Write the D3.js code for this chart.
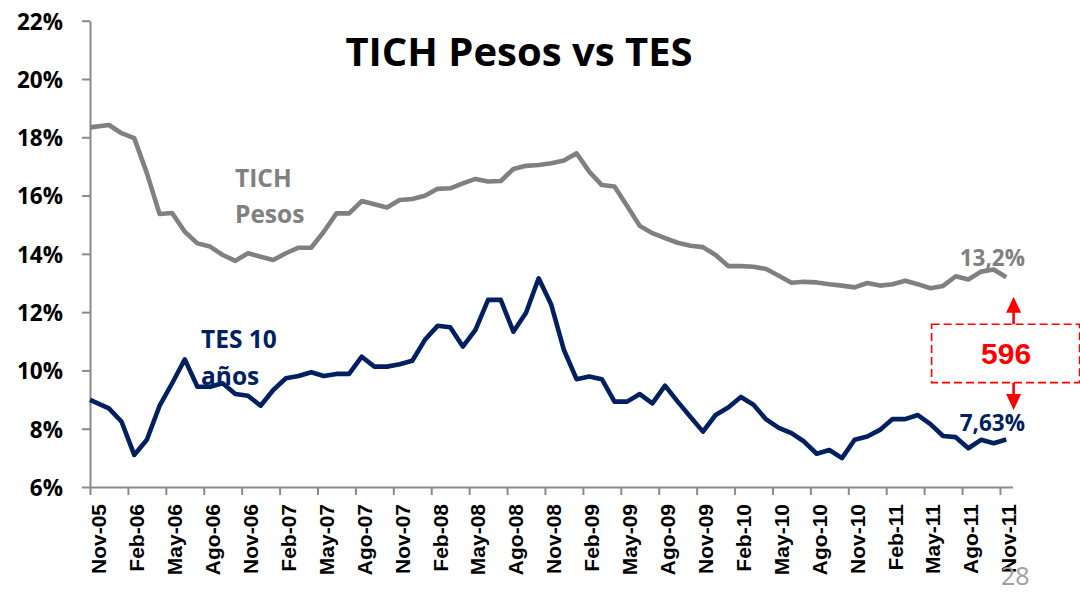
<!DOCTYPE html>
<html>
<head>
<meta charset="utf-8">
<script src="https://cdn.jsdelivr.net/npm/d3@7"></script>
<style>
  html, body { margin: 0; padding: 0; background: #ffffff; }
  svg { display: block; }
</style>
</head>
<body>
<svg id="chart" width="1080" height="592"></svg>
<script>
// Monthly categories, Nov-05 .. Nov-11
const months = [
  "Nov-05","Dic-05","Ene-06","Feb-06","Mar-06","Abr-06","May-06","Jun-06","Jul-06","Ago-06","Sep-06","Oct-06",
  "Nov-06","Dic-06","Ene-07","Feb-07","Mar-07","Abr-07","May-07","Jun-07","Jul-07","Ago-07","Sep-07","Oct-07",
  "Nov-07","Dic-07","Ene-08","Feb-08","Mar-08","Abr-08","May-08","Jun-08","Jul-08","Ago-08","Sep-08","Oct-08",
  "Nov-08","Dic-08","Ene-09","Feb-09","Mar-09","Abr-09","May-09","Jun-09","Jul-09","Ago-09","Sep-09","Oct-09",
  "Nov-09","Dic-09","Ene-10","Feb-10","Mar-10","Abr-10","May-10","Jun-10","Jul-10","Ago-10","Sep-10","Oct-10",
  "Nov-10","Dic-10","Ene-11","Feb-11","Mar-11","Abr-11","May-11","Jun-11","Jul-11","Ago-11","Sep-11","Oct-11",
  "Nov-11"
];

// TICH Pesos yield (%)
const tich = [
  18.34, 18.42, 18.14, 17.97, 16.77, 15.37, 15.40, 14.76, 14.36, 14.25, 13.96, 13.76,
  14.02, 13.90, 13.79, 14.02, 14.21, 14.21, 14.76, 15.39, 15.39, 15.81, 15.70, 15.59,
  15.85, 15.88, 15.99, 16.23, 16.25, 16.42, 16.57, 16.48, 16.50, 16.91, 17.02, 17.05,
  17.11, 17.20, 17.45, 16.82, 16.36, 16.31, 15.64, 14.96, 14.71, 14.54, 14.38, 14.28,
  14.23, 13.96, 13.58, 13.58, 13.56, 13.48, 13.25, 13.01, 13.04, 13.02, 12.96, 12.91,
  12.85, 13.00, 12.91, 12.96, 13.08, 12.96, 12.82, 12.90, 13.23, 13.12, 13.39, 13.46,
  13.20
];

// TES 10 años yield (%)
const tes = [
  8.99, 8.70, 8.24, 7.10, 7.62, 8.78, 9.56, 10.38, 9.44, 9.44, 9.56, 9.19,
  9.13, 8.79, 9.33, 9.73, 9.81, 9.94, 9.81, 9.88, 9.88, 10.47, 10.13, 10.13,
  10.21, 10.33, 11.05, 11.53, 11.48, 10.82, 11.39, 12.42, 12.42, 11.33, 11.98, 13.16,
  12.25, 10.70, 9.70, 9.79, 9.70, 8.93, 8.93, 9.19, 8.87, 9.48, 8.93, 8.41,
  7.90, 8.47, 8.73, 9.09, 8.82, 8.32, 8.03, 7.85, 7.56, 7.14, 7.27, 6.99,
  7.62, 7.73, 7.96, 8.33, 8.33, 8.47, 8.16, 7.75, 7.71, 7.33, 7.62, 7.50,
  7.63
];

// Axis labels
const yTicks = [6, 8, 10, 12, 14, 16, 18, 20, 22];
const xTickLabels = ["Nov-05","Feb-06","May-06","Ago-06","Nov-06","Feb-07","May-07","Ago-07","Nov-07",
  "Feb-08","May-08","Ago-08","Nov-08","Feb-09","May-09","Ago-09","Nov-09","Feb-10","May-10",
  "Ago-10","Nov-10","Feb-11","May-11","Ago-11","Nov-11"];

const spreadLabel = "596";
const title = "TICH Pesos vs TES";

const NAVY = "#002060";
const GREY = "#808080";
const AXIS = "#8a8a8a";
const RED = "#ff0000";

const svg = d3.select("#chart");
svg.append("rect").attr("width", 1080).attr("height", 592).attr("fill", "#fff");

const plotLeft = 90, plotRight = 1012.6, plotTop = 20.7, plotBottom = 487;

// One unit per month; each month occupies a slot, values sit mid-slot
const x = d3.scaleLinear().domain([0, months.length]).range([plotLeft, plotRight]);
const y = d3.scaleLinear().domain([6, 22]).range([plotBottom, plotTop]);

// first observation is anchored on the axis origin, the rest at mid-month
const pos = i => (i === 0 ? 0 : i + 0.5);

// Y axis
const yAxis = svg.append("g")
  .attr("transform", `translate(${plotLeft},0)`)
  .call(d3.axisLeft(y).tickValues(yTicks).tickSize(8).tickSizeOuter(0).tickPadding(19)
    .tickFormat(d => d + "%"));
yAxis.select(".domain").attr("stroke", AXIS).attr("stroke-width", 2);
yAxis.selectAll(".tick line").attr("stroke", AXIS).attr("stroke-width", 2);
yAxis.selectAll(".tick text")
  .attr("font-family", "'Open Sans', sans-serif")
  .attr("font-weight", 700)
  .attr("font-size", 22.5)
  .attr("fill", "#000")
  .attr("dy", "0.37em");

// X axis: tick marks on quarter boundaries, labels centred on their month
const tickIdx = xTickLabels.map(l => months.indexOf(l));
const halfMonth = (x(1) - x(0)) / 2;
const xAxis = svg.append("g")
  .attr("transform", `translate(0,${plotBottom})`)
  .call(d3.axisBottom(x).tickValues(tickIdx).tickSize(8).tickSizeOuter(0)
    .tickFormat(i => months[i]));
xAxis.select(".domain").attr("stroke", AXIS).attr("stroke-width", 2);
xAxis.selectAll(".tick line").attr("stroke", AXIS).attr("stroke-width", 2);
xAxis.selectAll(".tick text")
  .attr("font-family", "'Liberation Sans', Arial, sans-serif")
  .attr("font-weight", 700)
  .attr("font-size", 21)
  .attr("fill", "#000")
  .attr("text-anchor", "end")
  .attr("y", null).attr("dy", null)
  .attr("transform", `translate(${halfMonth + 9.5},17) rotate(-90)`);

// Series lines
const line = d3.line()
  .x((d, i) => x(pos(i)))
  .y(d => y(d));

svg.append("path")
  .datum(tich)
  .attr("d", line)
  .attr("fill", "none")
  .attr("stroke", GREY)
  .attr("stroke-width", 4.6)
  .attr("stroke-linejoin", "round");

svg.append("path")
  .datum(tes)
  .attr("d", line)
  .attr("fill", "none")
  .attr("stroke", NAVY)
  .attr("stroke-width", 4.6)
  .attr("stroke-linejoin", "round");

// Title
svg.append("text")
  .attr("x", 519).attr("y", 66)
  .attr("text-anchor", "middle")
  .attr("font-family", "'Open Sans', sans-serif")
  .attr("font-weight", 700)
  .attr("font-size", 40)
  .attr("fill", "#000")
  .text(title);

// Series names
const nameFont = "'Open Sans', sans-serif";
const tichName = svg.append("text")
  .attr("font-family", nameFont).attr("font-weight", 700).attr("font-size", 24.5)
  .attr("fill", GREY);
tichName.append("tspan").attr("x", 235).attr("y", 187).text("TICH");
tichName.append("tspan").attr("x", 235).attr("y", 223).text("Pesos");

const tesName = svg.append("text")
  .attr("font-family", nameFont).attr("font-weight", 700).attr("font-size", 24.5)
  .attr("fill", NAVY);
tesName.append("tspan").attr("x", 201).attr("y", 348).text("TES 10");
tesName.append("tspan").attr("x", 201).attr("y", 385).text("años");

// End-of-period value labels
const last = months.length - 1;
const fmt = (v, dec) => v.toFixed(dec).replace(".", ",") + "%";
svg.append("text")
  .attr("x", 1025).attr("y", y(tich[last]) - 11)
  .attr("text-anchor", "end")
  .attr("font-family", nameFont).attr("font-weight", 700).attr("font-size", 22.5)
  .attr("fill", GREY)
  .text(fmt(tich[last], 1));
svg.append("text")
  .attr("x", 1025).attr("y", y(tes[last]) - 8)
  .attr("text-anchor", "end")
  .attr("font-family", nameFont).attr("font-weight", 700).attr("font-size", 22.5)
  .attr("fill", NAVY)
  .text(fmt(tes[last], 2));

// Spread annotation: dashed box with arrows pointing at both series
const ax = plotRight + 1;
const boxTop = y(11.585), boxBottom = y(9.58);
const upTip = y(12.53), downTip = y(8.64);
const head = 16, headW = 7.5;

svg.append("rect")
  .attr("x", ax - 82).attr("y", boxTop)
  .attr("width", 148).attr("height", boxBottom - boxTop)
  .attr("fill", "none")
  .attr("stroke", RED)
  .attr("stroke-width", 1.6)
  .attr("stroke-dasharray", "8,4");

svg.append("line")
  .attr("x1", ax).attr("x2", ax).attr("y1", boxTop).attr("y2", upTip + head - 1)
  .attr("stroke", RED).attr("stroke-width", 2.6);
svg.append("path")
  .attr("d", `M${ax},${upTip} L${ax - headW},${upTip + head} L${ax + headW},${upTip + head} Z`)
  .attr("fill", RED);

svg.append("line")
  .attr("x1", ax).attr("x2", ax).attr("y1", boxBottom).attr("y2", downTip - head + 1)
  .attr("stroke", RED).attr("stroke-width", 2.6);
svg.append("path")
  .attr("d", `M${ax},${downTip} L${ax - headW},${downTip - head} L${ax + headW},${downTip - head} Z`)
  .attr("fill", RED);

svg.append("text")
  .attr("x", ax - 7.5).attr("y", (boxTop + boxBottom) / 2 + 11)
  .attr("text-anchor", "middle")
  .attr("font-family", "'Liberation Sans', Arial, sans-serif")
  .attr("font-weight", 700)
  .attr("font-size", 30)
  .attr("fill", RED)
  .text(spreadLabel);

// Slide number
svg.append("text")
  .attr("x", 1001).attr("y", 585)
  .attr("font-family", "'Open Sans', sans-serif")
  .attr("font-size", 25)
  .attr("fill", "#a0a0a0")
  .text("28");
</script>
</body>
</html>
